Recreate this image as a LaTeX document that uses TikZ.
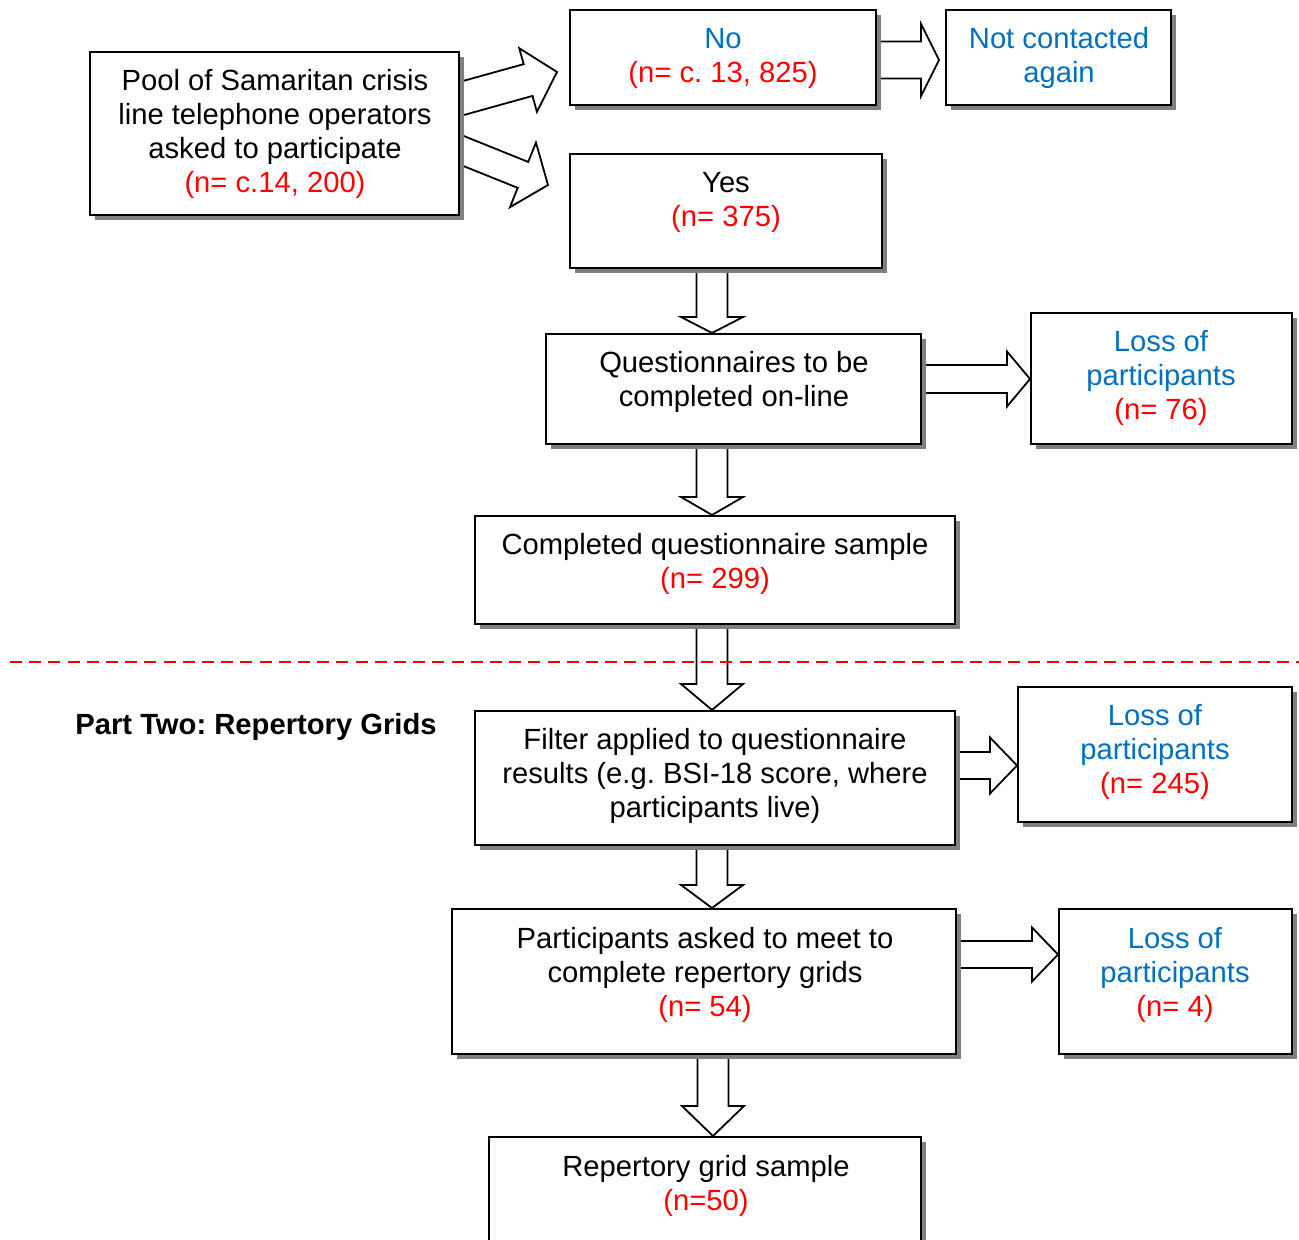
\documentclass[tikz,border=0pt]{standalone}
\usepackage{fontspec}
\setmainfont{Liberation Sans}
\usetikzlibrary{calc,shadows}
\definecolor{tblue}{HTML}{0070C0}
\definecolor{tred}{HTML}{FF0000}
\definecolor{shade}{HTML}{808080}
\pgfdeclarelayer{bg}
\pgfsetlayers{bg,main}
\frenchspacing
% block arrow: from, to, shaft half width, head half width, head length
\newcommand\barrow[5]{%
  \draw[blk] let \p1=(#1), \p2=(#2), \p3=($(\p2)!#5!(\p1)$) in
    ($(\p1)!#3!90:(\p2)$) -- ($(\p3)!#3!-90:(\p1)$) -- ($(\p3)!#4!-90:(\p1)$) -- (\p2)
    -- ($(\p3)!#4!90:(\p1)$) -- ($(\p3)!#3!90:(\p1)$) -- ($(\p1)!#3!-90:(\p2)$) -- cycle;}
\begin{document}
\begin{tikzpicture}[x=0.5pt,y=-0.5pt,
  font=\fontsize{14.6}{17}\selectfont,
  box/.style={draw, line width=1pt, fill=white, inner sep=0pt,
    drop shadow={shadow xshift=2.7pt, shadow yshift=-2.7pt, fill=shade, opacity=1}},
  txt/.style={align=center, inner sep=0pt},
  blk/.style={draw, line width=0.9pt, fill=white, line join=miter},
  red/.style={text=tred}, blue/.style={text=tblue}]
\useasboundingbox (0,0) rectangle (1299,1240);

% boxes
\node[box, minimum width=184.5pt, minimum height=81.5pt] (pool) at (274.5,133.5) {};
\node[box, minimum width=153pt, minimum height=47.5pt] (no) at (723,57.5) {};
\node[box, minimum width=112.5pt, minimum height=47.5pt] (notc) at (1058.5,57.5) {};
\node[box, minimum width=156pt, minimum height=57pt] (yes) at (726,211) {};
\node[box, minimum width=187.5pt, minimum height=55pt] (quest) at (733.5,389) {};
\node[box, minimum width=130.5pt, minimum height=65.5pt] (loss1) at (1161.5,378.5) {};
\node[box, minimum width=240pt, minimum height=54pt] (comp) at (715,570) {};
\node[box, minimum width=240pt, minimum height=67pt] (filter) at (715,778) {};
\node[box, minimum width=137pt, minimum height=67.5pt] (loss2) at (1155,754.5) {};
\node[box, minimum width=252pt, minimum height=72.5pt] (asked) at (704,981.5) {};
\node[box, minimum width=116.5pt, minimum height=72.5pt] (loss3) at (1175.5,981.5) {};
\node[box, minimum width=216pt, minimum height=61.5pt] (rep) at (705,1198.5) {};

% texts
\node[txt] (pooltxt) at (275,134) {Pool of Samaritan crisis\\line telephone operators\\asked to participate\\\textcolor{tred}{(n= c.14, 200)}};
\node[txt] (notxt) at (723,58) {\textcolor{tblue}{No}\\\textcolor{tred}{(n= c. 13, 825)}};
\node[txt, blue] (notctxt) at (1059,58) {Not contacted\\again};
\node[txt] (yestxt) at (726,202) {Yes\\\textcolor{tred}{(n= 375)}};
\node[txt] (questtxt) at (734,382) {Questionnaires to be\\completed on-line};
\node[txt] (loss1txt) at (1161,378) {\textcolor{tblue}{Loss of}\\\textcolor{tblue}{participants}\\\textcolor{tred}{(n= 76)}};
\node[txt] (comptxt) at (715,564) {Completed questionnaire sample\\\textcolor{tred}{(n= 299)}};
\node[txt, anchor=west] (parttxt) at (75,727) {\bfseries Part Two: Repertory Grids};
\node[txt] (filtertxt) at (715,776) {Filter applied to questionnaire\\results (e.g. BSI-18 score, where\\participants live)};
\node[txt] (loss2txt) at (1155,752) {\textcolor{tblue}{Loss of}\\\textcolor{tblue}{participants}\\\textcolor{tred}{(n= 245)}};
\node[txt] (askedtxt) at (705,975) {Participants asked to meet to\\complete repertory grids\\\textcolor{tred}{(n= 54)}};
\node[txt] (loss3txt) at (1175,975) {\textcolor{tblue}{Loss of}\\\textcolor{tblue}{participants}\\\textcolor{tred}{(n= 4)}};
\node[txt] (reptxt) at (706,1186) {Repertory grid sample\\\textcolor{tred}{(n=50)}};

% reference coordinates for arrows
\coordinate (colA) at (712,0);
\coordinate (colB) at (713,0);
\coordinate (row1) at (0,60);
\coordinate (row2) at (0,379);
\coordinate (row3) at (0,765.5);
\coordinate (row4) at (0,954.5);
\coordinate (d1s) at (440,104.5);
\coordinate (d1e) at (557,72);
\coordinate (d2s) at (440,141.5);
\coordinate (d2e) at (548,185);

\begin{pgfonlayer}{bg}
  \barrow{d1s}{d1e}{8.25pt}{16.5pt}{15pt}
  \barrow{d2s}{d2e}{7pt}{17.4pt}{13.5pt}
  \barrow{no.east |- row1}{$(notc.west |- row1)+(-6,0)$}{9.25pt}{18pt}{9pt}
  \barrow{yes.south -| colA}{quest.north -| colA}{7.75pt}{15.5pt}{8pt}
  \barrow{quest.south -| colA}{comp.north -| colA}{7.75pt}{15.5pt}{9pt}
  \barrow{comp.south -| colA}{filter.north -| colA}{7.75pt}{15.5pt}{13pt}
  \barrow{filter.south -| colA}{asked.north -| colA}{7.75pt}{15.5pt}{11.5pt}
  \barrow{asked.south -| colB}{rep.north -| colB}{7.75pt}{15.5pt}{15pt}
  \barrow{quest.east |- row2}{loss1.west |- row2}{7pt}{13.75pt}{11.5pt}
  \barrow{filter.east |- row3}{loss2.west |- row3}{6.75pt}{14pt}{13.5pt}
  \barrow{asked.east |- row4}{loss3.west |- row4}{6.75pt}{13.5pt}{13pt}
\end{pgfonlayer}

% dashed separator
\coordinate (dl) at (10,662);
\coordinate (dr) at (1299,662);
\draw[tred, line width=1pt, dash pattern=on 6pt off 3.6pt] (dl) -- (dr);
\end{tikzpicture}
\end{document}
